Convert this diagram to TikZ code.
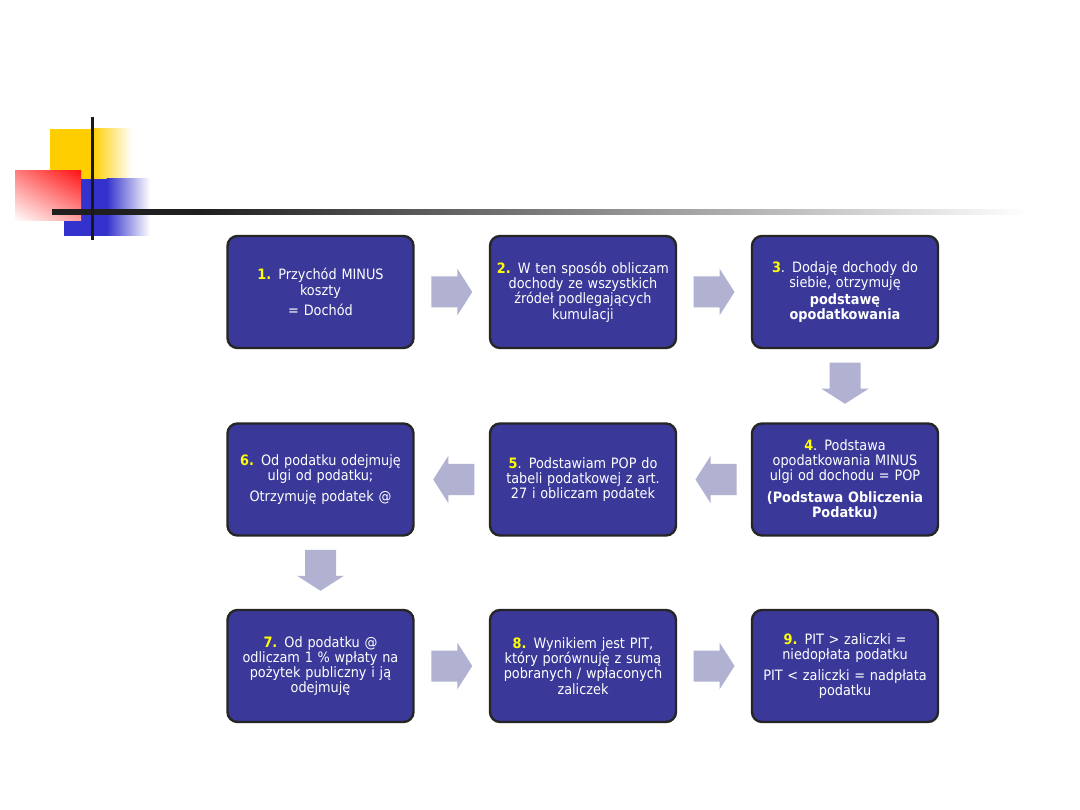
\documentclass[tikz,border=0pt]{standalone}
\usepackage{fontspec}
\setmainfont{DejaVu Sans Condensed}
\usetikzlibrary{calc,shadings}
\definecolor{boxfill}{RGB}{58,57,153}
\definecolor{boxline}{RGB}{38,38,38}
\definecolor{arrfill}{RGB}{177,177,209}
\definecolor{numyel}{RGB}{255,255,0}
\definecolor{decoyel}{RGB}{255,206,0}
\definecolor{decoblue}{RGB}{52,50,204}
\definecolor{decored}{RGB}{255,20,20}
\newcommand\stepnum[1]{\textcolor{numyel}{\textbf{#1}}}
% block arrow centred at #1, rotated by #2
\newcommand\blockarr[2]{%
  \fill[blockarrow, shift={(#1)}, rotate=#2]
    (-20.5,-15.5) -- (5.5,-15.5) -- (5.5,-23.5) -- (20.5,0) -- (5.5,23.5)
    -- (5.5,15.5) -- (-20.5,15.5) -- cycle;}
\tikzset{
  stepbox/.style={draw=boxline, line width=2.4pt, fill=boxfill, rounded corners=10pt,
    minimum width=186pt, minimum height=112pt, inner sep=0pt, text=white,
    align=center, text width=180pt, font=\fontsize{14.3}{15.2}\selectfont},
  blockarrow/.style={fill=arrfill, draw=none},
}
\begin{document}
\begin{tikzpicture}[x=1pt,y=-1pt]
\useasboundingbox (0,0) rectangle (1080,810);
\fill[white] (0,0) rectangle (1080,810);
% header decoration
\fill[decoyel] (50,129) rectangle (93,180);
\shade[left color=decoyel, right color=white] (92.5,129) rectangle (132,180);
\fill[decoblue] (64,179) rectangle (107,236);
\shade[left color=decoblue, right color=white] (106.5,179) rectangle (150,236);
\shade[upper left=decored!55, upper right=decored, lower left=white, lower right=decored!40] (15,171) rectangle (81,221);
\fill[black!88] (52,209.5) rectangle (200,215);
\shade[left color=black!88, right color=white] (199.5,209.5) rectangle (1028,215);
\fill[black!90] (90.5,117) rectangle (93.5,240);
% boxes
\node[stepbox] (b1) at (320.5,292) {\stepnum{1.} Przychód MINUS\\ koszty\\[5pt] = Dochód};
\node[stepbox] (b2) at (583,292) {\stepnum{2.} W ten sposób obliczam\\ dochody ze wszystkich\\ źródeł podlegających\\ kumulacji};
\node[stepbox] (b3) at (845,292) {\stepnum{3}. Dodaję dochody do\\ siebie, otrzymuję\\[2pt] \textbf{podstawę}\\ \textbf{opodatkowania}};
\node[stepbox] (b4) at (845,479.5) {\stepnum{4}. Podstawa\\ opodatkowania MINUS\\ ulgi od dochodu = POP\\[6pt] \textbf{(Podstawa Obliczenia}\\ \textbf{Podatku)}};
\node[stepbox] (b5) at (583,479.5) {\stepnum{5}. Podstawiam POP do\\ tabeli podatkowej z art.\\ 27 i obliczam podatek};
\node[stepbox] (b6) at (320.5,479.5) {\stepnum{6.} Od podatku odejmuję\\ ulgi od podatku;\\[6pt] Otrzymuję podatek @};
\node[stepbox] (b7) at (320.5,666) {\stepnum{7.} Od podatku @\\ odliczam 1 \% wpłaty na\\ pożytek publiczny i ją\\ odejmuję};
\node[stepbox] (b8) at (583,666) {\stepnum{8.} Wynikiem jest PIT,\\ który porównuję z sumą\\ pobranych / wpłaconych\\ zaliczek};
\node[stepbox] (b9) at (845,666) {\stepnum{9.} PIT > zaliczki =\\ niedopłata podatku\\[6pt] PIT < zaliczki = nadpłata\\ podatku};
% arrows between the boxes
\coordinate (a12) at ($(b1.east)!0.5!(b2.west)$);
\coordinate (a23) at ($(b2.east)!0.5!(b3.west)$);
\coordinate (a34) at ($(b3.south)!0.5!(b4.north)+(0,-2.5)$);
\coordinate (a45) at ($(b4.west)!0.5!(b5.east)+(2,0)$);
\coordinate (a56) at ($(b5.west)!0.5!(b6.east)+(2,0)$);
\coordinate (a67) at ($(b6.south)!0.5!(b7.north)+(0,-2.5)$);
\coordinate (a78) at ($(b7.east)!0.5!(b8.west)$);
\coordinate (a89) at ($(b8.east)!0.5!(b9.west)$);
\blockarr{a12}{0}
\blockarr{a23}{0}
\blockarr{a34}{-90}
\blockarr{a45}{180}
\blockarr{a56}{180}
\blockarr{a67}{-90}
\blockarr{a78}{0}
\blockarr{a89}{0}
\end{tikzpicture}
\end{document}
